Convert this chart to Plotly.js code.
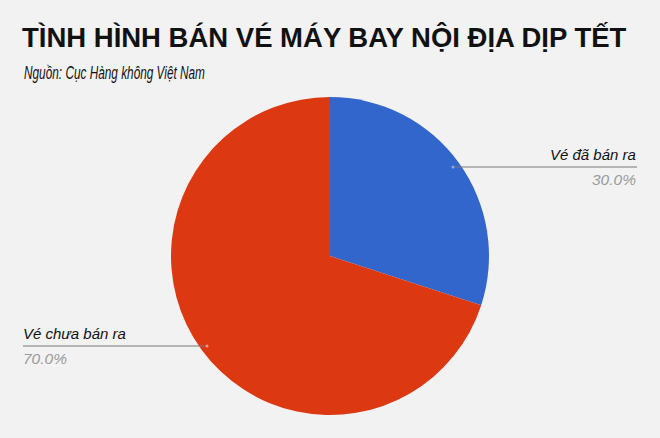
<!DOCTYPE html>
<html>
<head>
<meta charset="utf-8">
<script src="https://cdn.plot.ly/plotly-3.0.1.min.js"></script>
<style>
html,body{margin:0;padding:0;background:#f2f2f2;}
#chart{width:660px;height:438px;}
</style>
</head>
<body>
<div id="chart"></div>
<script>
const categories = ["Vé đã bán ra", "Vé chưa bán ra"];
const values = [30.0, 70.0];
const colors = ["#3366cc", "#dc3912"];
const titleText = "TÌNH HÌNH BÁN VÉ MÁY BAY NỘI ĐỊA DỊP TẾT";
const sourceText = "Nguồn: Cục Hàng không Việt Nam";

const total = values.reduce((a, b) => a + b, 0);
const pct = values.map(v => (v / total * 100).toFixed(1) + "%");

const data = [{
  type: "pie",
  labels: categories,
  values: values,
  sort: false,
  direction: "clockwise",
  rotation: 0,
  textinfo: "none",
  hoverinfo: "label+percent",
  marker: {colors: colors, line: {width: 0}},
  domain: {x: [0.2591, 0.7409], y: [0.0525, 0.7785]},
  showlegend: false
}];

const labelFont = {family: "Liberation Sans, Arial, sans-serif", size: 15, color: "#111"};
const pctFont = {family: "Liberation Sans, Arial, sans-serif", size: 15.5, color: "#9a9a9a"};

const layout = {
  width: 660, height: 438,
  margin: {l: 0, r: 0, t: 0, b: 0},
  paper_bgcolor: "#f2f2f2",
  plot_bgcolor: "#f2f2f2",
  title: {
    text: "<b>" + titleText + "</b>",
    x: 22 / 660, xanchor: "left", xref: "paper",
    y: 1 - 37.5 / 438, yanchor: "middle", yref: "container",
    font: {family: "Liberation Sans, Arial, sans-serif", size: 28.5, color: "#111"}
  },
  annotations: [
    {text: "<i>" + sourceText + "</i>", xref: "paper", yref: "paper",
     x: 22 / 660, y: 1 - 72.5 / 438, xanchor: "left", yanchor: "middle", showarrow: false,
     font: {family: "Liberation Sans, Arial, sans-serif", size: 18, color: "#111"}},
    {text: "<i>" + categories[0] + "</i>", xref: "paper", yref: "paper",
     x: 638 / 660, y: 1 - 165 / 438, xanchor: "right", yanchor: "bottom", showarrow: false,
     font: labelFont},
    {text: "<i>" + pct[0] + "</i>", xref: "paper", yref: "paper",
     x: 638 / 660, y: 1 - 169 / 438, xanchor: "right", yanchor: "top", showarrow: false,
     font: pctFont},
    {text: "<i>" + categories[1] + "</i>", xref: "paper", yref: "paper",
     x: 21 / 660, y: 1 - 344 / 438, xanchor: "left", yanchor: "bottom", showarrow: false,
     font: labelFont},
    {text: "<i>" + pct[1] + "</i>", xref: "paper", yref: "paper",
     x: 21 / 660, y: 1 - 348 / 438, xanchor: "left", yanchor: "top", showarrow: false,
     font: pctFont}
  ],
  shapes: [
    {type: "line", xref: "paper", yref: "paper", x0: 453 / 660, x1: 637 / 660,
     y0: 1 - 167 / 438, y1: 1 - 167 / 438, line: {color: "#777", width: 1.2}},
    {type: "circle", xref: "paper", yref: "paper", x0: 451.5 / 660, x1: 454.5 / 660,
     y0: 1 - 168.5 / 438, y1: 1 - 165.5 / 438, line: {width: 0}, fillcolor: "#8fa8dd"},
    {type: "line", xref: "paper", yref: "paper", x0: 23 / 660, x1: 207 / 660,
     y0: 1 - 346 / 438, y1: 1 - 346 / 438, line: {color: "#777", width: 1.2}},
    {type: "circle", xref: "paper", yref: "paper", x0: 205.5 / 660, x1: 208.5 / 660,
     y0: 1 - 347.5 / 438, y1: 1 - 344.5 / 438, line: {width: 0}, fillcolor: "#ee9a86"}
  ]
};

function squeeze(el, targetWidth) {
  if (!el) return;
  const bb = el.getBBox();
  if (!bb.width) return;
  const s = targetWidth / bb.width;
  const x0 = bb.x;
  const prev = el.getAttribute("transform") || "";
  el.setAttribute("transform", "translate(" + x0 + ",0) scale(" + s + ",1) translate(" + (-x0) + ",0) " + prev);
}

Plotly.newPlot("chart", data, layout, {displayModeBar: false, staticPlot: true}).then(function (gd) {
  squeeze(gd.querySelector(".gtitle"), 605);
  const ann = gd.querySelectorAll(".annotation-text");
  squeeze(ann[0], 181);
});
</script>
</body>
</html>
